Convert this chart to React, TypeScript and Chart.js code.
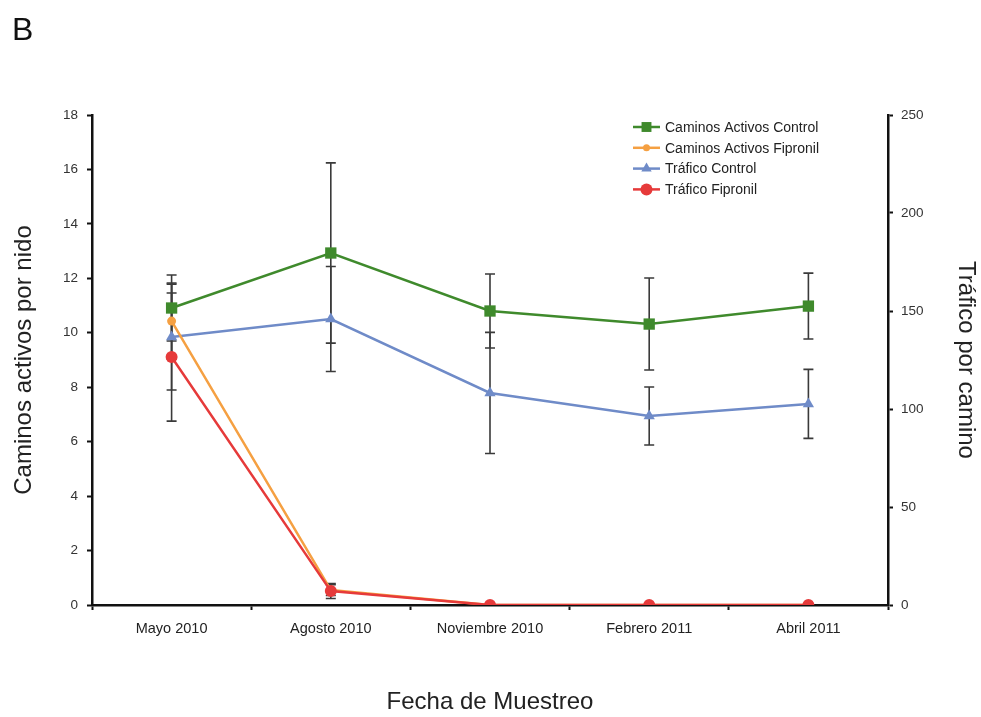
import React, { useEffect, useRef } from 'react';
import { Chart, registerables } from 'chart.js';

Chart.register(...registerables);

const panelLabel = 'B';
const categories = ['Mayo 2010', 'Agosto 2010', 'Noviembre 2010', 'Febrero 2011', 'Abril 2011'];

const caminosControl = [10.91, 12.93, 10.8, 10.32, 10.98];
const caminosControlErr = [1.21, 3.31, 1.36, 1.69, 1.21];
const caminosFipronil = [10.43, 0.55, 0, 0, 0];
const caminosFipronilErr = [1.4, 0.2, 0, 0, 0];
const traficoControl = [136.7, 145.9, 108.2, 96.4, 102.6];
const traficoControlErr = [27, 26.8, 30.9, 14.8, 17.6];
const traficoFipronil = [126.5, 7.1, 0, 0, 0];
const traficoFipronilErr = [32.7, 3.8, 0, 0, 0];

const leftTicks = [0, 2, 4, 6, 8, 10, 12, 14, 16, 18];
const rightTicks = [0, 50, 100, 150, 200, 250];

const seriesNames = ['Caminos Activos Control', 'Caminos Activos Fipronil', 'Tráfico Control', 'Tráfico Fipronil'];

const GREEN = '#3f8a2c';
const ORANGE = '#f5a042';
const BLUE = '#6f8bc8';
const RED = '#e63a3a';
const FONT = "'Liberation Sans', Arial, sans-serif";

function drawMarker(ctx: CanvasRenderingContext2D, style: string, x: number, y: number, r: number, color: string) {
  ctx.save();
  ctx.fillStyle = color;
  ctx.beginPath();
  if (style === 'rect') {
    const s = r * Math.SQRT1_2;
    ctx.rect(x - s, y - s, 2 * s, 2 * s);
  } else if (style === 'triangle') {
    ctx.moveTo(x, y - r);
    ctx.lineTo(x + Math.sin((2 * Math.PI) / 3) * r, y + r / 2);
    ctx.lineTo(x - Math.sin((2 * Math.PI) / 3) * r, y + r / 2);
    ctx.closePath();
  } else {
    ctx.arc(x, y, r, 0, Math.PI * 2);
  }
  ctx.fill();
  ctx.restore();
}

const errorBarsPlugin = {
  id: 'errorBars',
  beforeDatasetsDraw(chart: any) {
    const ctx = chart.ctx as CanvasRenderingContext2D;
    ctx.save();
    ctx.strokeStyle = '#3a3a3a';
    ctx.lineWidth = 1.6;
    chart.data.datasets.forEach((ds: any, i: number) => {
      const meta = chart.getDatasetMeta(i);
      const yScale = chart.scales[ds.yAxisID];
      const errs: number[] = ds.errors || [];
      meta.data.forEach((pt: any, j: number) => {
        const e = errs[j];
        if (!e) return;
        const v = ds.data[j];
        const x = pt.x;
        const yT = yScale.getPixelForValue(v + e);
        const yB = yScale.getPixelForValue(Math.max(v - e, yScale.min));
        ctx.beginPath();
        ctx.moveTo(x, yT);
        ctx.lineTo(x, yB);
        ctx.moveTo(x - 5, yT);
        ctx.lineTo(x + 5, yT);
        ctx.moveTo(x - 5, yB);
        ctx.lineTo(x + 5, yB);
        ctx.stroke();
      });
    });
    ctx.restore();
  },
};

const decorPlugin = {
  id: 'decor',
  afterDraw(chart: any) {
    const ctx = chart.ctx as CanvasRenderingContext2D;
    ctx.save();
    ctx.fillStyle = '#111';
    ctx.font = `32px ${FONT}`;
    ctx.textBaseline = 'alphabetic';
    ctx.textAlign = 'left';
    ctx.fillText(panelLabel, 12, 40);

    const byName: any = {};
    chart.data.datasets.forEach((ds: any) => (byName[ds.label] = ds));
    seriesNames.forEach((name, i) => {
      const ds = byName[name];
      const y = 127 + i * 20.8;
      ctx.strokeStyle = ds.borderColor;
      ctx.lineWidth = 2.5;
      ctx.beginPath();
      ctx.moveTo(633, y);
      ctx.lineTo(660, y);
      ctx.stroke();
      drawMarker(ctx, ds.pointStyle, 646.5, y, ds.legendRadius, ds.borderColor);
      ctx.fillStyle = '#222';
      ctx.font = `14px ${FONT}`;
      ctx.textBaseline = 'middle';
      ctx.fillText(name, 665, y + 1);
    });
    ctx.restore();
  },
};

export default function App() {
  const ref = useRef<HTMLCanvasElement | null>(null);

  useEffect(() => {
    if (!ref.current) return;
    const common = { borderWidth: 2.5, tension: 0, fill: false, pointBorderWidth: 0 };
    const chart = new Chart(ref.current, {
      type: 'line',
      data: {
        labels: categories,
        datasets: [
          {
            ...common,
            label: seriesNames[3],
            data: traficoFipronil,
            errors: traficoFipronilErr,
            yAxisID: 'y1',
            borderColor: RED,
            backgroundColor: RED,
            pointStyle: 'circle',
            pointRadius: 6,
            legendRadius: 6,
            order: 1,
          } as any,
          {
            ...common,
            label: seriesNames[1],
            data: caminosFipronil,
            errors: caminosFipronilErr,
            yAxisID: 'y',
            borderColor: ORANGE,
            backgroundColor: ORANGE,
            pointStyle: 'circle',
            pointRadius: 4.5,
            legendRadius: 3.5,
            order: 2,
          } as any,
          {
            ...common,
            label: seriesNames[0],
            data: caminosControl,
            errors: caminosControlErr,
            yAxisID: 'y',
            borderColor: GREEN,
            backgroundColor: GREEN,
            pointStyle: 'rect',
            pointRadius: 8,
            legendRadius: 7,
            order: 3,
          } as any,
          {
            ...common,
            label: seriesNames[2],
            data: traficoControl,
            errors: traficoControlErr,
            yAxisID: 'y1',
            borderColor: BLUE,
            backgroundColor: BLUE,
            pointStyle: 'triangle',
            pointRadius: 6.5,
            legendRadius: 6,
            order: 4,
          } as any,
        ],
      },
      options: {
        animation: false,
        responsive: false,
        layout: { padding: { top: 115, left: 0, right: 0, bottom: 0 } },
        plugins: {
          legend: { display: false },
          tooltip: { enabled: false },
          title: { display: false },
        },
        scales: {
          x: {
            type: 'category',
            offset: true,
            afterFit: (s: any) => {
              s.height = 112;
            },
            border: { display: true, color: '#111', width: 2.5 },
            grid: { display: true, offset: true, drawOnChartArea: false, drawTicks: true, tickLength: 5, tickColor: '#111', tickWidth: 2 },
            ticks: { color: '#222', font: { family: FONT, size: 14.5 }, padding: 10, maxRotation: 0 },
            title: { display: true, text: 'Fecha de Muestreo', color: '#222', font: { family: FONT, size: 24 }, padding: { top: 14, bottom: 0 } },
          },
          y: {
            type: 'linear',
            position: 'left',
            min: 0,
            max: 18,
            afterFit: (s: any) => {
              s.width = 92;
            },
            afterBuildTicks: (s: any) => {
              s.ticks = leftTicks.map((v) => ({ value: v }));
            },
            border: { display: true, color: '#111', width: 2.5 },
            grid: { display: true, drawOnChartArea: false, drawTicks: true, tickLength: 5, tickColor: '#111', tickWidth: 2 },
            ticks: { color: '#333', font: { family: FONT, size: 13.5 }, padding: 9 },
            title: { display: true, text: 'Caminos activos por nido', color: '#222', font: { family: FONT, size: 24 }, padding: { top: 10, bottom: 0 } },
          },
          y1: {
            type: 'linear',
            position: 'right',
            min: 0,
            max: 250,
            afterFit: (s: any) => {
              s.width = 93;
            },
            afterBuildTicks: (s: any) => {
              s.ticks = rightTicks.map((v) => ({ value: v }));
            },
            border: { display: true, color: '#111', width: 2.5 },
            grid: { display: true, drawOnChartArea: false, drawTicks: true, tickLength: 5, tickColor: '#111', tickWidth: 2 },
            ticks: { color: '#333', font: { family: FONT, size: 13.5 }, padding: 8 },
            title: { display: true, text: 'Tráfico por camino', color: '#222', font: { family: FONT, size: 24 }, padding: { top: 1, bottom: 0 } },
          },
        },
      } as any,
      plugins: [errorBarsPlugin, decorPlugin],
    });
    return () => chart.destroy();
  }, []);

  return (
    <div style={{ position: 'absolute', left: 0, top: 0, width: 981, height: 717, background: '#fff' }}>
      <canvas ref={ref} width={981} height={717} style={{ display: 'block', width: 981, height: 717 }} />
    </div>
  );
}
